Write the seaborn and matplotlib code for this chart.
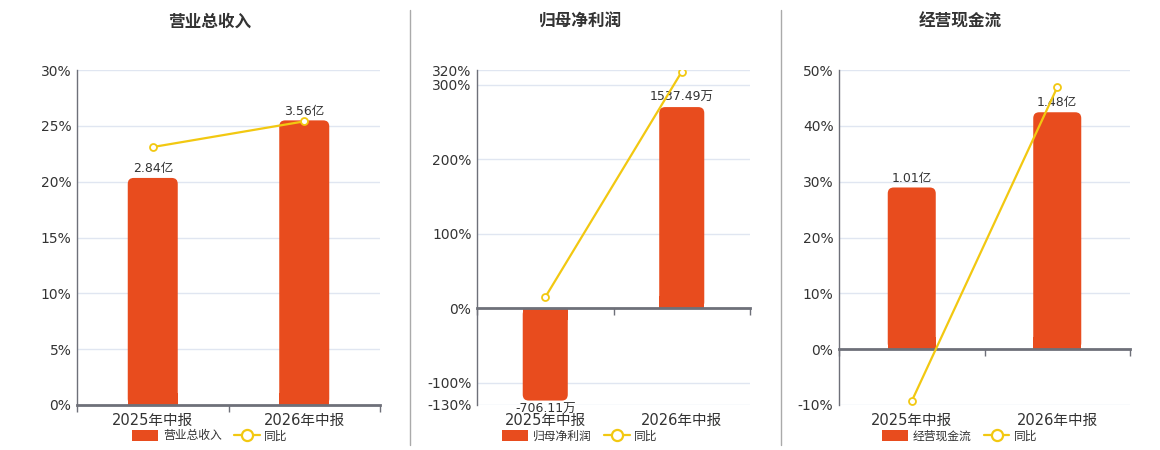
import numpy as np
import matplotlib
matplotlib.use("Agg")
import matplotlib.pyplot as plt
import matplotlib.patches as mpatches
from matplotlib.lines import Line2D
from matplotlib.ticker import FuncFormatter
import seaborn as sns

# data
periods = ['2025年中报', '2026年中报']

revenue = [2.84, 3.56]            # 亿
revenue_yoy = [23.1, 25.4]        # %
profit = [-706.11, 1537.49]       # 万
profit_yoy = [14.8, 317.7]
cashflow = [1.01, 1.48]           # 亿
cashflow_yoy = [-9.3, 46.9]

titles = ['营业总收入', '归母净利润', '经营现金流']
units = ['亿', '万', '亿']
pct_ticks = [[0, 5, 10, 15, 20, 25, 30],
             [-130, -100, 0, 100, 200, 300, 320],
             [-10, 0, 10, 20, 30, 40, 50]]

sns.set_theme(style='white')
plt.rcParams['font.family'] = ['DejaVu Sans', 'Noto Sans CJK SC']

BAR = '#E84C1E'
LINE = '#F2C811'
AXC = '#6E7079'
TXT = '#333333'
GRID = '#E0E6F1'

W, H = 1160, 450
fig = plt.figure(figsize=(W / 100, H / 100), dpi=100)

# axes boxes in pixels: left, right ; bar axis limits
boxes = [(77, 380), (477, 750), (839, 1130)]
bar_lims = [(0, 4.19), (-740, 1821), (-0.349, 1.744)]
centers = [210, 580, 960]
top_px, bot_px = 70, 405

series = [(revenue, revenue_yoy), (profit, profit_yoy), (cashflow, cashflow_yoy)]


def round_bars(ax, patches, radius_px):
    # rounded corners on the outer end of each bar, square at the base
    bb = ax.get_window_extent()
    x0, x1 = ax.get_xlim()
    y0, y1 = ax.get_ylim()
    xu = (x1 - x0) / bb.width
    yu = (y1 - y0) / bb.height
    for p in list(patches):
        x, y, w, h = p.get_x(), p.get_y(), p.get_width(), p.get_height()
        base = y
        if h < 0:
            y, h = y + h, -h
        fb = mpatches.FancyBboxPatch((x, y), w, h,
                                     boxstyle=f"round,pad=0,rounding_size={radius_px * xu}",
                                     mutation_aspect=yu / xu,
                                     facecolor=BAR, edgecolor='none', zorder=2)
        ax.add_patch(fb)
        half = h / 2
        sq_y = base if p.get_height() >= 0 else base - half
        # square filler for the base corners, inset so its side edges do not show
        ax.add_patch(mpatches.Rectangle((x + xu, sq_y), w - 2 * xu, half, facecolor=BAR,
                                        edgecolor='none', zorder=2))
        ax.add_patch(mpatches.Rectangle((x, sq_y if p.get_height() >= 0 else base - radius_px * 2 * yu),
                                        w, radius_px * 2 * yu, facecolor=BAR,
                                        edgecolor='none', zorder=2))
        p.set_visible(False)


for i, ((vals, yoy), (l, r)) in enumerate(zip(series, boxes)):
    ax = fig.add_axes([l / W, 1 - bot_px / H, (r - l) / W, (bot_px - top_px) / H])
    tw = ax.twinx()

    lo, hi = pct_ticks[i][0], pct_ticks[i][-1]
    blo, bhi = bar_lims[i]

    # bars on the hidden axis
    sns.barplot(x=periods, y=vals, ax=tw, color=BAR, saturation=1, width=0.33)
    tw.set_ylim(blo, bhi)
    tw.set_xlim(-0.5, 1.5)
    cont = tw.containers[0]
    tw.bar_label(cont, labels=[f"{v:.2f}{units[i]}" for v in vals],
                 padding=2, fontsize=9, color=TXT)
    round_bars(tw, cont.patches, 6)

    # grid lines drawn on the bar axis so they sit behind the bars
    tw.set_yticks([blo + (t - lo) / (hi - lo) * (bhi - blo) for t in pct_ticks[i]])
    tw.yaxis.grid(True, color=GRID, linewidth=1)
    tw.xaxis.grid(False)
    tw.tick_params(axis='y', length=0, labelright=False)
    tw.set_ylabel('')
    for s in tw.spines.values():
        s.set_visible(False)

    # growth line on the visible percent axis
    ax.set_zorder(tw.get_zorder() + 1)
    ax.patch.set_visible(False)
    sns.lineplot(x=np.arange(len(periods)), y=yoy, ax=ax, color=LINE, linewidth=1.6,
                 marker='o', markersize=5, markerfacecolor='white',
                 markeredgecolor=LINE, markeredgewidth=1.3)
    ax.set_ylim(lo, hi)
    ax.set_xlim(-0.5, 1.5)
    ax.set_yticks(pct_ticks[i])
    ax.yaxis.set_major_formatter(FuncFormatter(lambda v, _: f"{v:g}%"))
    ax.set_xticks(range(len(periods)))
    ax.set_xticklabels(periods)
    ax.tick_params(axis='y', length=0, pad=4, labelsize=10, labelcolor=TXT)
    ax.tick_params(axis='x', length=0, pad=6, labelsize=10.5, labelcolor=TXT)
    ax.grid(False)
    for s in ['top', 'right', 'bottom']:
        ax.spines[s].set_visible(False)
    ax.spines['left'].set_color(AXC)
    ax.spines['left'].set_linewidth(1)

    # category axis line at zero
    frac = (0 - lo) / (hi - lo)
    sec = ax.secondary_xaxis(frac)
    sec.set_alignment('bottom')
    sec.set_xticks([-0.5, 0.5, 1.5])
    sec.set_xticklabels([])
    sec.tick_params(axis='x', length=5, width=1, color=AXC, direction='out')
    for s in sec.spines.values():
        s.set_visible(False)
    sec.spines['bottom'].set_visible(True)
    sec.spines['bottom'].set_color(AXC)
    sec.spines['bottom'].set_linewidth(2)

    fig.text(centers[i] / W, 1 - 22 / H, titles[i], ha='center', va='center',
             fontsize=12, fontweight='bold', color=TXT)

    handles = [mpatches.Patch(facecolor=BAR, edgecolor='none'),
               Line2D([], [], color=LINE, linewidth=1.6, marker='o', markersize=8,
                      markerfacecolor='white', markeredgecolor=LINE, markeredgewidth=1.6)]
    fig.legend(handles, [titles[i], '同比'], loc='center',
               bbox_to_anchor=(centers[i] / W, 1 - 436 / H), ncol=2, frameon=False,
               fontsize=8.5, handlelength=2.2, handleheight=1.0, columnspacing=1.0,
               handletextpad=0.4, labelcolor=TXT)

# column separators
for xs in [410, 781]:
    fig.add_artist(Line2D([xs / W, xs / W], [1 - 445 / H, 1 - 10 / H],
                          color='#AAAAAA', linewidth=1))

fig.savefig('out.png', dpi=100)
